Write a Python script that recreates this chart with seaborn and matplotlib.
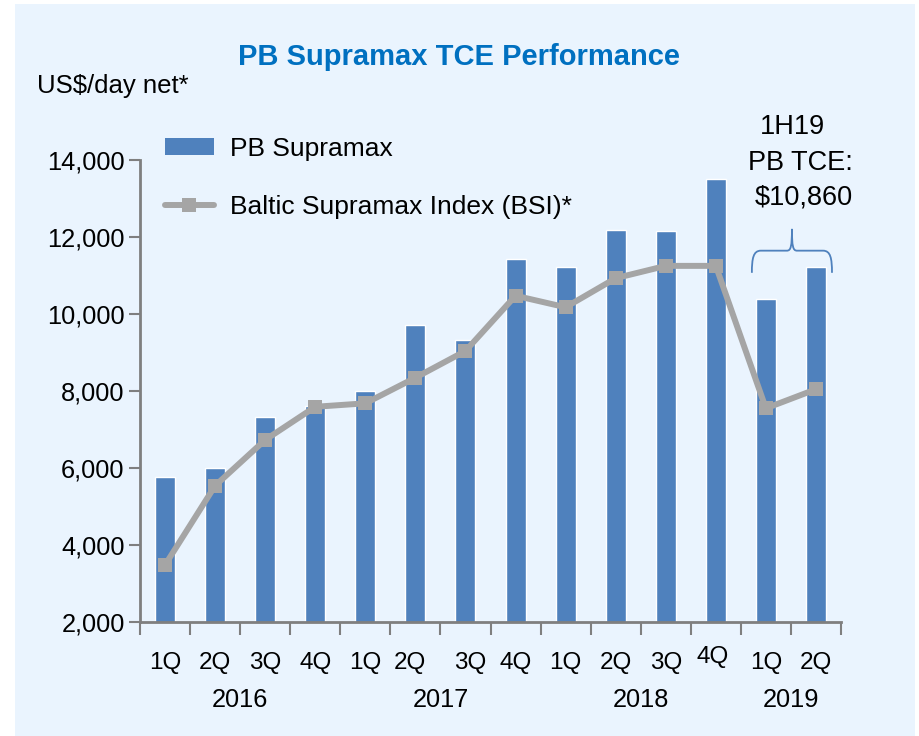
import numpy as np
import pandas as pd
import seaborn as sns
import matplotlib.pyplot as plt
from matplotlib.patches import Rectangle, Patch, PathPatch
from matplotlib.lines import Line2D
from matplotlib.path import Path
from matplotlib.transforms import blended_transform_factory, ScaledTranslation

quarters = ["1Q", "2Q", "3Q", "4Q", "1Q", "2Q", "3Q", "4Q", "1Q", "2Q", "3Q", "4Q", "1Q", "2Q"]
periods = ["1Q16", "2Q16", "3Q16", "4Q16", "1Q17", "2Q17", "3Q17", "4Q17",
           "1Q18", "2Q18", "3Q18", "4Q18", "1Q19", "2Q19"]
years = ["2016", "2017", "2018", "2019"]
year_pos = [1.5, 5.5, 9.5, 12.5]
pb_supramax = [5770, 5990, 7330, 7610, 7990, 9720, 9320, 11440,
               11220, 12170, 12150, 13500, 10380, 11220]
bsi = [3480, 5540, 6730, 7590, 7680, 8345, 9040, 10475,
       10175, 10930, 11250, 11250, 7550, 8045]

df = pd.DataFrame({"period": periods, "pb": pb_supramax, "bsi": bsi})
df["pos"] = np.arange(len(df))

sns.set_style("ticks")
plt.rcParams["font.family"] = ["Liberation Sans", "DejaVu Sans"]
plt.rcParams["text.color"] = "black"
plt.rcParams["ytick.labelcolor"] = "black"

W, H = 919, 736
fig = plt.figure(figsize=(W / 100, H / 100), dpi=100)
fig.patch.set_facecolor("white")
fig.patches.append(Rectangle((15 / W, 0), 900 / W, 732 / H, transform=fig.transFigure,
                             facecolor="#EAF4FE", edgecolor="none", zorder=-10))

ax = fig.add_axes([140 / W, 1 - 622 / H, 701 / W, 462 / H])
ax.set_facecolor("none")

bar_color = "#4F81BD"
line_color = "#A5A5A5"

sns.barplot(data=df, x="period", y="pb", color=bar_color, width=0.4,
            saturation=1, ax=ax, zorder=2)
sns.lineplot(data=df, x="pos", y="bsi", color=line_color, linewidth=4.3,
             marker="s", markersize=10.5, markeredgewidth=0, ax=ax, zorder=3)

ax.set_xlim(-0.5, 13.5)
ax.set_ylim(2000, 14000)
ax.set_xlabel("")
ax.set_ylabel("")

yt = np.arange(2000, 14001, 2000)
ax.set_yticks(yt)
ax.set_yticklabels([f"{v:,}" for v in yt], fontsize=18.3, color="black")
ax.tick_params(axis="y", length=8, width=1.5, color="#7F7F7F", pad=3)
ax.set_xticks(np.arange(-0.5, 13.6, 1))
ax.set_xticklabels([])
ax.tick_params(axis="x", length=9, width=1.5, color="#7F7F7F")
for s in ["top", "right"]:
    ax.spines[s].set_visible(False)
for s in ["left", "bottom"]:
    ax.spines[s].set_color("#7F7F7F")
    ax.spines[s].set_linewidth(2)
    ax.spines[s].set_zorder(4)

# quarter and year labels
tr = blended_transform_factory(ax.transData, fig.transFigure)
shift = {5: (-6, 0), 6: (5, 0), 11: (-3, 6)}
for i, q in enumerate(quarters):
    dx, dy = shift.get(i, (0, 0))
    t = tr + ScaledTranslation(dx / 100, dy / 100, fig.dpi_scale_trans)
    ax.text(i, 1 - 663 / H, q, transform=t, ha="center", va="center", fontsize=17.5)
for p, y in zip(year_pos, years):
    ax.text(p, 1 - 700 / H, y, transform=tr, ha="center", va="center", fontsize=18.3)

# title and unit
fig.text(459 / W, 1 - 57 / H, "PB Supramax TCE Performance", ha="center", va="center",
         fontsize=21, fontweight="bold", color="#0070C0")
fig.text(37 / W, 1 - 86 / H, "US$/day net*", ha="left", va="center", fontsize=18.5)

# legend
handles = [Patch(facecolor=bar_color, edgecolor="none"),
           Line2D([], [], color=line_color, lw=4.3, marker="s", markersize=10.5,
                  markeredgewidth=0)]
ax.legend(handles, ["PB Supramax", "Baltic Supramax Index (BSI)*"], loc="upper left",
          bbox_to_anchor=(165 / W, 1 - 137 / H), bbox_transform=fig.transFigure,
          frameon=False, fontsize=19, handlelength=1.85, handleheight=0.62,
          handletextpad=0.62, labelspacing=1.3, borderpad=0, borderaxespad=0)

# 1H19 annotation and brace
fig.text(792 / W, 1 - 127 / H, "1H19", ha="center", va="center", fontsize=19.5)
fig.text(800 / W, 1 - 163 / H, "PB TCE:", ha="center", va="center", fontsize=19.5)
fig.text(804 / W, 1 - 198 / H, "$10,860", ha="center", va="center", fontsize=19.5)

xl, xr = 12 - 0.28, 13 + 0.32
xm = (xl + xr) / 2
yb, yh, yt_ = 11070, 11645, 12210
verts = [(xl, yb), (xl, 11450), (xl + 0.03, yh), (xl + 0.18, yh),
         (xm - 0.1, yh), (xm - 0.02, yh), (xm, 11760), (xm, yt_),
         (xm, 11760), (xm + 0.02, yh), (xm + 0.1, yh),
         (xr - 0.18, yh), (xr - 0.03, yh), (xr, 11450), (xr, yb)]
codes = [Path.MOVETO, Path.CURVE4, Path.CURVE4, Path.CURVE4,
         Path.LINETO, Path.CURVE4, Path.CURVE4, Path.CURVE4,
         Path.CURVE4, Path.CURVE4, Path.CURVE4,
         Path.LINETO, Path.CURVE4, Path.CURVE4, Path.CURVE4]
ax.add_patch(PathPatch(Path(verts, codes), facecolor="none", edgecolor=bar_color,
                       lw=1.3, clip_on=False, zorder=5))

fig.savefig("out.png", dpi=100)
